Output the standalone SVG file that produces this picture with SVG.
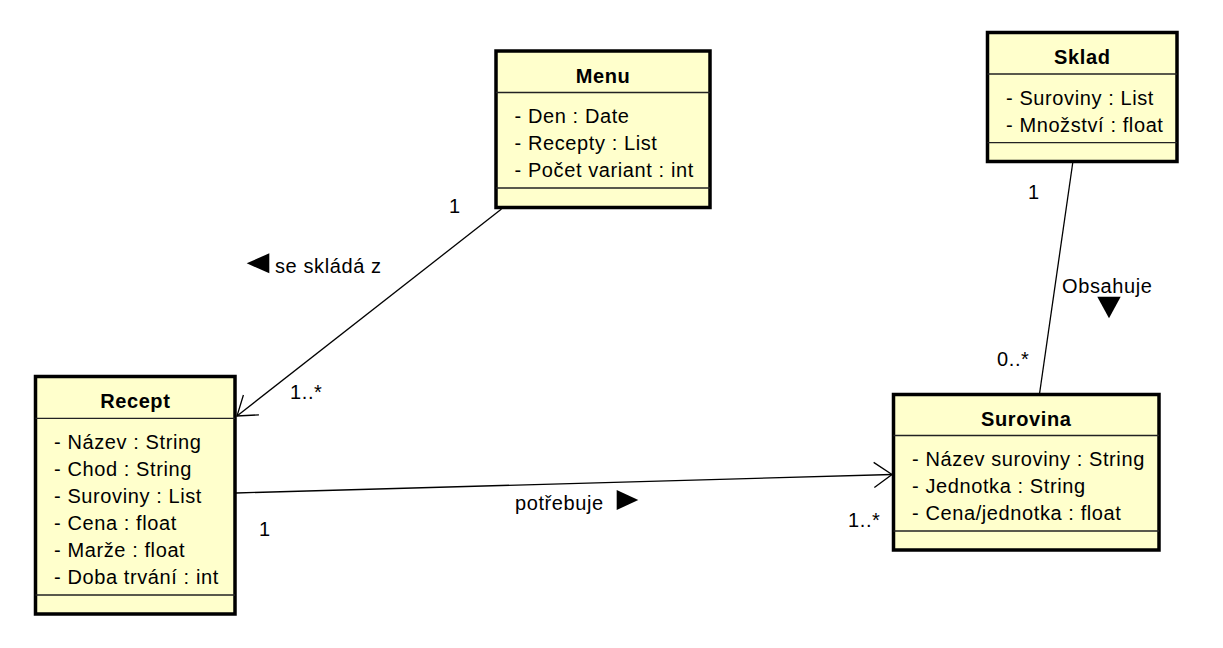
<svg xmlns="http://www.w3.org/2000/svg" width="1223" height="648" viewBox="0 0 1223 648">
<style>
text{font-family:"Liberation Sans",Arial,sans-serif;font-size:20px;letter-spacing:0.6px;fill:#000}
.t{font-weight:bold;text-anchor:middle}
.box{fill:#FFFFCC;stroke:#000;stroke-width:3.5}
.sep{stroke:#222;stroke-width:1.3}
.conn{stroke:#000;stroke-width:1.3;fill:none}
.tri{fill:#000}
</style>
<defs>
<marker id="open" markerUnits="userSpaceOnUse" markerWidth="40" markerHeight="40" viewBox="-30 -20 40 40" refX="0" refY="0" orient="auto">
<path d="M-18,-12.6 L0,0 L-18,12.6" fill="none" stroke="#000" stroke-width="1.3"/>
</marker>
</defs>
<rect width="1223" height="648" fill="#fff"/>
<g id="connectors">
<line class="conn" x1="501.5" y1="209" x2="237" y2="416" marker-end="url(#open)"/>
<line class="conn" x1="236" y1="493" x2="892" y2="474.5" marker-end="url(#open)"/>
<line class="conn" x1="1073" y1="161" x2="1039.5" y2="394"/>
<text x="449" y="213">1</text>
<text x="290" y="399">1..*</text>
<polygon class="tri" points="269.3,253.3 269.3,273.3 246.7,263.3"/>
<text x="275" y="273">se skládá z</text>
<text x="259" y="536">1</text>
<text x="848" y="527">1..*</text>
<text x="515" y="510">potřebuje</text>
<polygon class="tri" points="616.7,490 616.7,510 638.3,500"/>
<text x="1028" y="199">1</text>
<text x="997" y="366">0..*</text>
<text x="1062" y="293">Obsahuje</text>
<polygon class="tri" points="1097.3,296.7 1120.7,296.7 1109,318.3"/>
</g>
<g id="menu">
<rect class="box" x="496" y="51" width="214" height="156.5"/>
<text class="t" x="603" y="82.5">Menu</text>
<line class="sep" x1="496" y1="92.5" x2="710" y2="92.5"/>
<text x="514.5" y="123">- Den : Date</text>
<text x="514.5" y="150">- Recepty : List</text>
<text x="514.5" y="177">- Počet variant : int</text>
<line class="sep" x1="496" y1="188" x2="710" y2="188"/>
</g>
<g id="sklad">
<rect class="box" x="987.5" y="32.5" width="189.5" height="129"/>
<text class="t" x="1082.3" y="64">Sklad</text>
<line class="sep" x1="987.5" y1="74" x2="1177" y2="74"/>
<text x="1006" y="104.7">- Suroviny : List</text>
<text x="1006" y="131.7">- Množství : float</text>
<line class="sep" x1="987.5" y1="142.7" x2="1177" y2="142.7"/>
</g>
<g id="recept">
<rect class="box" x="35.5" y="376.5" width="199.5" height="237.5"/>
<text class="t" x="135.3" y="408">Recept</text>
<line class="sep" x1="35.5" y1="418.3" x2="235" y2="418.3"/>
<text x="54" y="449">- Název : String</text>
<text x="54" y="476">- Chod : String</text>
<text x="54" y="503">- Suroviny : List</text>
<text x="54" y="530">- Cena : float</text>
<text x="54" y="557">- Marže : float</text>
<text x="54" y="584">- Doba trvání : int</text>
<line class="sep" x1="35.5" y1="595" x2="235" y2="595"/>
</g>
<g id="surovina">
<rect class="box" x="893.5" y="394.5" width="265.5" height="155.5"/>
<text class="t" x="1026.3" y="425.5">Surovina</text>
<line class="sep" x1="893.5" y1="435.5" x2="1159" y2="435.5"/>
<text x="912" y="466.2">- Název suroviny : String</text>
<text x="912" y="493.2">- Jednotka : String</text>
<text x="912" y="520.2">- Cena/jednotka : float</text>
<line class="sep" x1="893.5" y1="531" x2="1159" y2="531"/>
</g>
</svg>
